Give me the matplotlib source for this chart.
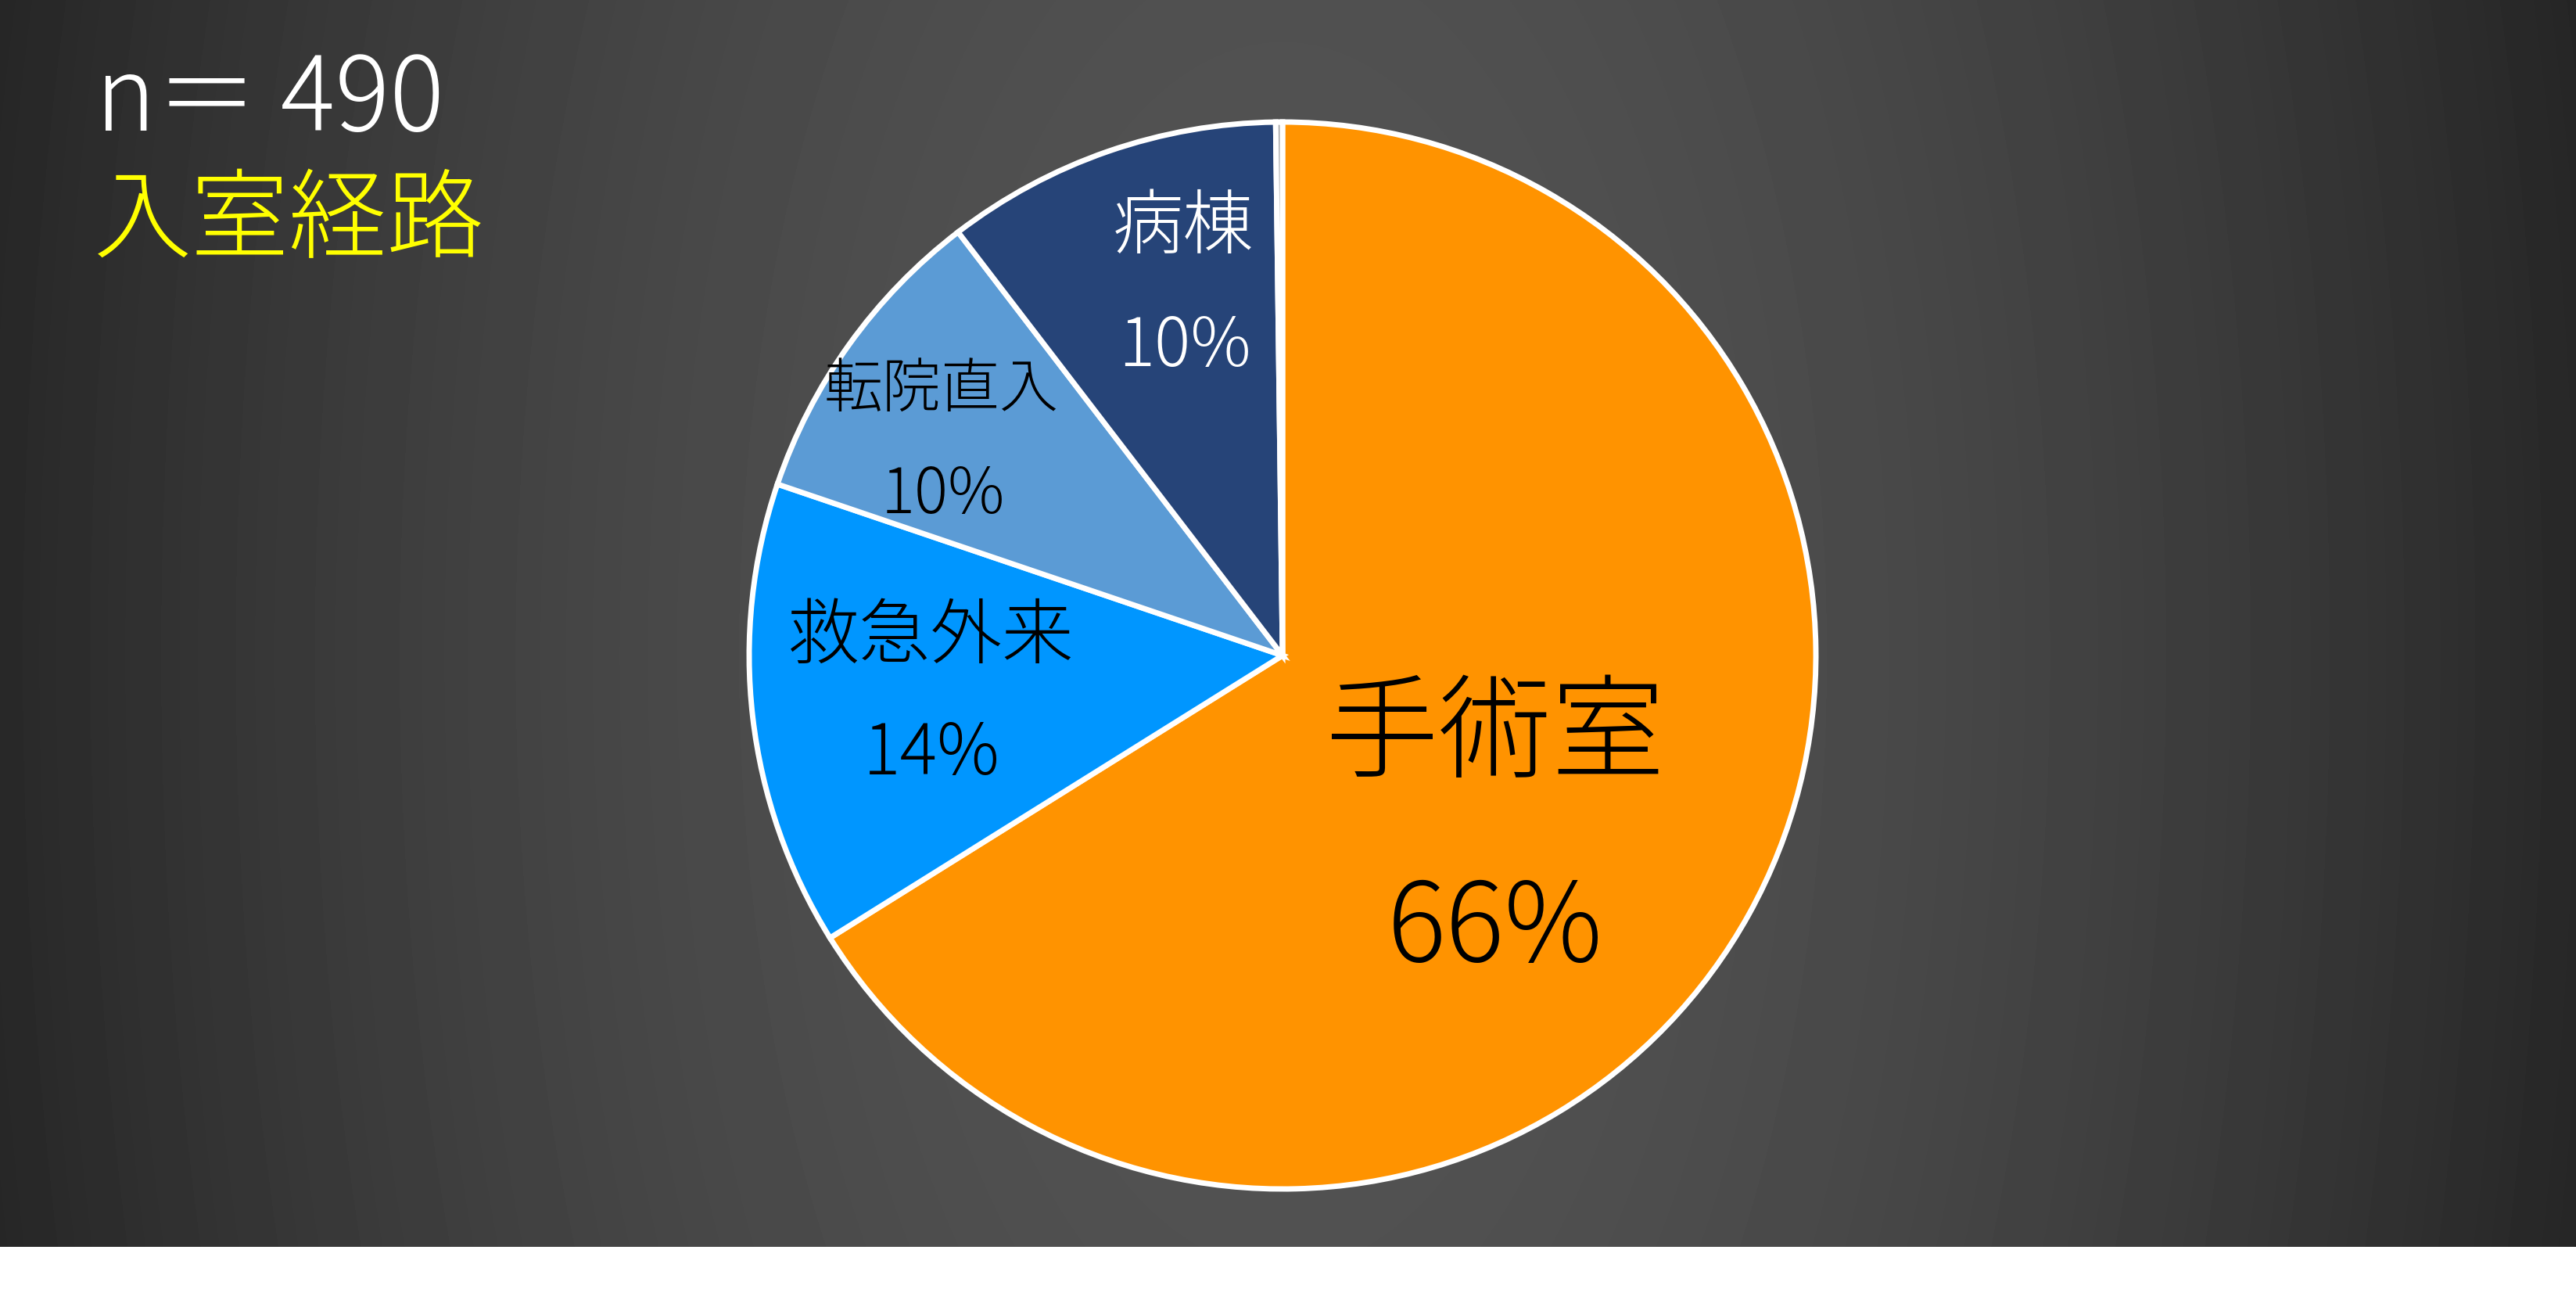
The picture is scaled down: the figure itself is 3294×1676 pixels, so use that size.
import matplotlib
matplotlib.use("Agg")
import matplotlib.pyplot as plt
import numpy as np

plt.rcParams['font.family'] = ['Noto Sans CJK JP', 'DejaVu Sans']

# data (n = 490)
routes = ['手術室', '救急外来', '転院直入', '病棟', 'その他']
counts = [324, 69, 46, 50, 1]
pct_text = ['66%', '14%', '10%', '10%', '']
colors = ['#FF9300', '#0096FF', '#5B9BD5', '#264478', '#A5A5A5']
n_total = 490
title = '入室経路'

W, H = 3294, 1676
dark_h = 1594          # height of dark panel, white strip below
cx, cy, R = 1640, 838, 682   # pie centre (image coords) and radius in px
weight = 'light'

fig = plt.figure(figsize=(W / 100, H / 100), dpi=100, facecolor='white')
ax = fig.add_axes([0, 0, 1, 1])

# radial grey background
yy, xx = np.mgrid[0:dark_h, 0:W]
r = np.sqrt(((xx - cx) / 1650.0) ** 2 + ((yy - cy) / 3300.0) ** 2)
v = np.clip(84 - 44 * r ** 1.8, 30, 90) / 255.0
ax.imshow(v, cmap='gray', vmin=0, vmax=1, extent=(0, W, H - dark_h, H),
          origin='upper', interpolation='bilinear', zorder=0, aspect='auto')

ax.pie(counts, colors=colors, startangle=90, counterclock=False,
       center=(cx, H - cy), radius=R, frame=False,
       wedgeprops=dict(edgecolor='white', linewidth=5, zorder=2))

ax.set_xlim(0, W)
ax.set_ylim(0, H)
ax.axis('off')

# label layout: (x, baseline y) in image px, font size, colour
name_pos = [(1912, 983, 104), (1190, 841, 66), (1204, 520, 54), (1513, 317, 65)]
pct_pos = [(1912, 1229, 101), (1191, 990, 64), (1206, 656, 58), (1515, 468, 62)]
txt_col = ['black', 'black', 'black', 'white']

for i in range(4):
    x, y, fs = name_pos[i]
    ax.text(x, H - y, routes[i], fontsize=fs, color=txt_col[i],
            ha='center', va='baseline', fontweight=weight, zorder=5)
    x, y, fs = pct_pos[i]
    ax.text(x, H - y, pct_text[i], fontsize=fs, color=txt_col[i],
            ha='center', va='baseline', fontweight=weight, zorder=5)

ax.text(122, H - 167, 'n＝ ' + str(n_total), fontsize=94, color='white',
        ha='left', va='baseline', fontweight=weight, zorder=5)
ax.text(120, H - 320, title, fontsize=90, color='#FFFF00',
        ha='left', va='baseline', fontweight=weight, zorder=5)

fig.savefig('out.png', dpi=100, facecolor='white')
